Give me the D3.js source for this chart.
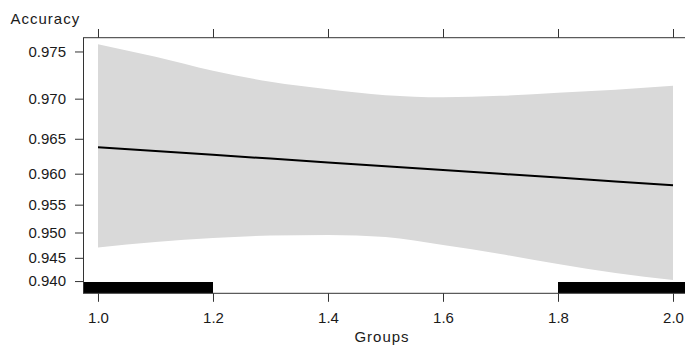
<!DOCTYPE html>
<html>
<head>
<meta charset="utf-8">
<script src="https://cdn.jsdelivr.net/npm/d3@7"></script>
<style>
  body { margin: 0; background: #fff; }
  svg { display: block; }
  text { font-family: "Liberation Sans", Arial, sans-serif; fill: #1a1a1a; }
</style>
</head>
<body>
<svg id="chart" width="685" height="345"></svg>
<script>
// Effect of Groups on Accuracy: fitted curve with confidence band
const groups = [1.0, 1.1, 1.2, 1.3, 1.4, 1.5, 1.6, 1.7, 1.8, 1.9, 2.0];
const fit    = [0.96385, 0.96332, 0.96278, 0.96224, 0.96169, 0.96113, 0.96056, 0.95998, 0.95940, 0.95880, 0.95820];
const lower  = [0.94709, 0.94817, 0.94895, 0.94943, 0.94953, 0.94914, 0.94758, 0.94578, 0.94370, 0.94177, 0.94022];
const upper  = [0.97569, 0.97448, 0.97306, 0.97189, 0.97106, 0.97039, 0.97016, 0.97033, 0.97067, 0.97101, 0.97145];

const yTicks = [0.940, 0.945, 0.950, 0.955, 0.960, 0.965, 0.970, 0.975];
const xTicks = [1.0, 1.2, 1.4, 1.6, 1.8, 2.0];

// observed group values shown as a jittered rug along the bottom
const rugCenters = [1, 2];
const rugHalfWidth = 0.2;

const xDomain = [0.9748, 2.0252];
const yDomain = [0.9372, 0.9763];

const svg = d3.select("#chart");
const box = { left: 83.5, right: 687.5, top: 37.7, bottom: 293.3 };

const logit = p => Math.log(p / (1 - p));

const x = d3.scaleLinear().domain(xDomain).range([box.left, box.right]);
// response axis on the logit (link) scale
const yLink = d3.scaleLinear().domain(yDomain.map(logit)).range([box.bottom, box.top]);
const y = p => yLink(logit(p));

const rows = groups.map((g, i) => ({ g, fit: fit[i], lo: lower[i], hi: upper[i] }));

svg.append("defs").append("clipPath").attr("id", "panel")
  .append("rect").attr("x", box.left).attr("y", box.top)
  .attr("width", box.right - box.left).attr("height", box.bottom - box.top);

const panel = svg.append("g").attr("clip-path", "url(#panel)");

panel.append("path")
  .datum(rows)
  .attr("fill", "#d9d9d9")
  .attr("d", d3.area()
    .curve(d3.curveMonotoneX)
    .x(d => x(d.g)).y0(d => y(d.lo)).y1(d => y(d.hi)));

panel.append("path")
  .datum(rows)
  .attr("fill", "none")
  .attr("stroke", "#000")
  .attr("stroke-width", 2)
  .attr("d", d3.line().x(d => x(d.g)).y(d => y(d.fit)));

panel.selectAll("rect.rug")
  .data(rugCenters)
  .join("rect")
  .attr("class", "rug")
  .attr("x", d => x(d - rugHalfWidth))
  .attr("width", d => x(d + rugHalfWidth) - x(d - rugHalfWidth))
  .attr("y", box.bottom - 11.3)
  .attr("height", 11.3)
  .attr("fill", "#000");

// panel border
svg.append("rect")
  .attr("x", box.left).attr("y", box.top)
  .attr("width", box.right - box.left).attr("height", box.bottom - box.top)
  .attr("fill", "none").attr("stroke", "#333").attr("stroke-width", 1);

const axisStyle = g => {
  g.select(".domain").remove();
  g.selectAll(".tick line").attr("stroke", "#333");
  g.selectAll(".tick text").style("font-size", "15px").attr("fill", "#1a1a1a");
};

svg.append("g")
  .attr("transform", `translate(${box.left},0)`)
  .call(d3.axisLeft(yLink)
    .tickValues(yTicks.map(logit))
    .tickFormat((v, i) => d3.format(".3f")(yTicks[i]))
    .tickSize(8.5).tickPadding(9))
  .call(axisStyle);

svg.append("g")
  .attr("transform", `translate(0,${box.bottom})`)
  .call(d3.axisBottom(x)
    .tickValues(xTicks)
    .tickFormat(d3.format(".1f"))
    .tickSize(8.5).tickPadding(11))
  .call(axisStyle);

svg.append("g")
  .attr("transform", `translate(0,${box.top})`)
  .call(d3.axisTop(x).tickValues(xTicks).tickFormat("").tickSize(8.7))
  .call(axisStyle);

svg.append("text")
  .attr("x", 10.5).attr("y", 24)
  .style("font-size", "15px").style("letter-spacing", "1px")
  .text("Accuracy");

svg.append("text")
  .attr("x", 382).attr("y", 341.5)
  .attr("text-anchor", "middle")
  .style("font-size", "15px").style("letter-spacing", "1px")
  .text("Groups");
</script>
</body>
</html>
